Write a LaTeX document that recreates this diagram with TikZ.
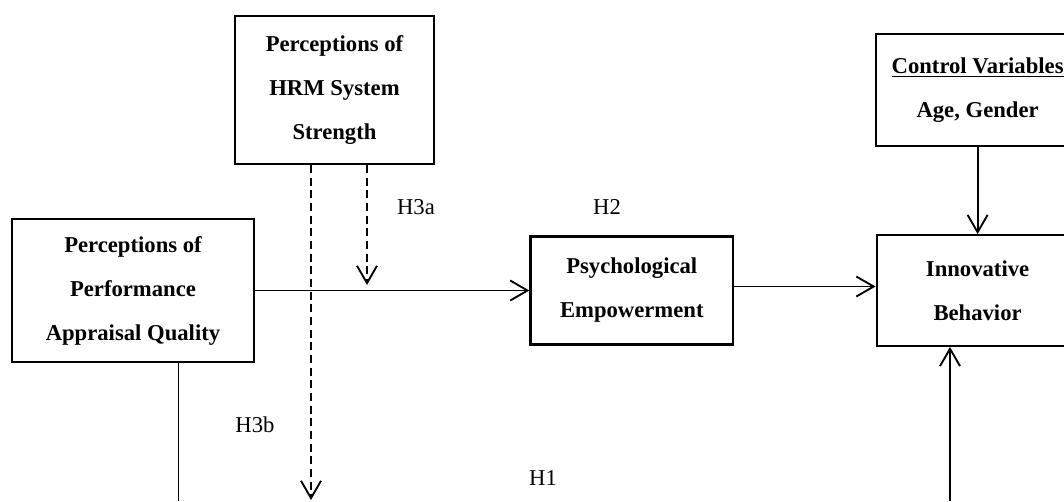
\documentclass[tikz,border=0pt]{standalone}
\usepackage{fontspec}
\setmainfont{Liberation Serif}
\usepackage{tikz}
\usetikzlibrary{positioning, arrows.meta}
\tikzset{
    box_style/.style={
        rectangle,            % 方框
        draw=black,           % 边框颜色
        line width=1.6pt,     % 边框加粗
        fill=white,           % 填充颜色
        align=center,         % 多行文字居中
        inner sep=0pt,
        font=\bfseries\fontsize{17}{33}\selectfont  % 粗体衬线字
    },
    arrow_style/.style={
        -{Straight Barb[length=13pt,width=15pt]},  % 开口箭头
        line width=1.4pt
    },
    line_style/.style={
        line width=1.4pt      % 无箭头的连线
    },
    dash_style/.style={
        arrow_style,
        dash pattern=on 6pt off 3.5pt  % 调节作用用虚线
    },
    hyp_style/.style={
        font=\fontsize{17}{20}\selectfont  % 假设标签
    }
}

\begin{document}
\begin{tikzpicture}[x=0.75pt, y=-0.75pt]
            \useasboundingbox (0,0) rectangle (1064,501);
            % 1. 定义节点位置
            \node[box_style, minimum width=181pt, minimum height=107pt] (perf) at (133,290.5) {Perceptions of\\Performance\\Appraisal Quality};
            \node[box_style, minimum width=152pt, minimum height=81pt, right=206pt of perf] (psych) {Psychological\\Empowerment};   % 中介变量
            \node[box_style, minimum width=151.5pt, minimum height=83pt, right=106pt of psych] (inno) {Innovative\\Behavior};      % 结果变量
            \node[box_style, minimum width=149pt, minimum height=111pt] (hrm) at (334.5,90) {Perceptions of\\HRM System\\Strength};
            \node[box_style, minimum width=153pt, minimum height=84pt, above=65pt of inno] (ctrl) {\underline{Control Variables}\\Age, Gender};

            % 2. 连线的自由端点 (图的下边缘)
            \coordinate (perf_end) at (178.5,501);
            \coordinate (inno_start) at (950,501);
            \coordinate (h3a_end) at (367,285);
            \coordinate (h3b_end) at (311,500);

            % 3. 绘制带箭头的连线
            \draw[arrow_style] (perf.east) -- (psych.west);              % H2 前半
            \draw[arrow_style] ([yshift=3pt]psych.east) -- ([yshift=3pt]inno.west);  % H2 后半
            \draw[arrow_style] (ctrl.south) -- (inno.north);             % 控制变量
            \draw[line_style] (perf.south -| perf_end) -- (perf_end);    % H1 直接效应
            \draw[arrow_style] (inno_start) -- (inno.south -| inno_start);
            \draw[dash_style] (hrm.south -| h3a_end) -- (h3a_end);       % H3a
            \draw[dash_style] (hrm.south -| h3b_end) -- (h3b_end);       % H3b

            % 4. 假设标签
            \node[hyp_style] (h3a) at (416,207) {H3a};
            \node[hyp_style] (h2) at (607,207) {H2};
            \node[hyp_style] (h3b) at (255,425) {H3b};
            \node[hyp_style] (h1) at (543,478) {H1};
        \end{tikzpicture}
\end{document}
